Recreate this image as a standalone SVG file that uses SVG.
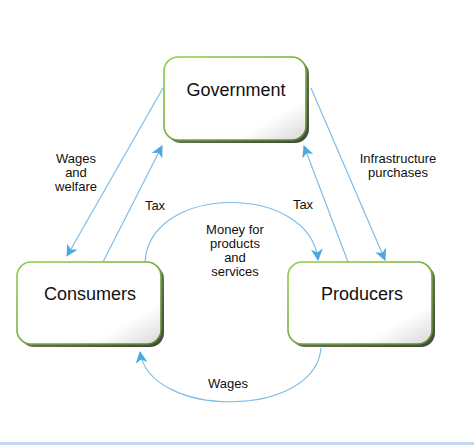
<svg xmlns="http://www.w3.org/2000/svg" width="474" height="445" viewBox="0 0 474 445">
  <defs>
    <linearGradient id="boxfill" x1="0" y1="0" x2="1" y2="1">
      <stop offset="0" stop-color="#ffffff"/>
      <stop offset="0.75" stop-color="#ffffff"/>
      <stop offset="1" stop-color="#d8d8d8"/>
    </linearGradient>
    <linearGradient id="shadowfill" x1="0" y1="0" x2="1" y2="1">
      <stop offset="0" stop-color="#8a9a80"/>
      <stop offset="1" stop-color="#3f4a38"/>
    </linearGradient>
    <linearGradient id="strokeg" x1="0" y1="0" x2="1" y2="1">
      <stop offset="0" stop-color="#8fd04a"/>
      <stop offset="1" stop-color="#5e8a2e"/>
    </linearGradient>
    <marker id="arr" viewBox="0 0 12 12" refX="11" refY="6" markerWidth="12" markerHeight="12" markerUnits="userSpaceOnUse" orient="auto">
      <path d="M0,0 L12,6 L0,12 L3.5,6 Z" fill="#4ea8e0"/>
    </marker>
  </defs>
  <style>
    .shadow { fill: url(#shadowfill); }
    .box { fill: url(#boxfill); stroke: url(#strokeg); stroke-width: 1.6; }
    .big { font-family: "Liberation Sans", Arial, sans-serif; font-size: 18px; fill: #111; text-anchor: middle; }
    .lbl { font-family: "Liberation Sans", Arial, sans-serif; font-size: 13px; fill: #111; text-anchor: middle; }
    .conn { fill: none; stroke: #7dbde8; stroke-width: 1.2; marker-end: url(#arr); }
  </style>
  <rect x="0" y="0" width="474" height="445" fill="#ffffff"/>
  <rect x="0" y="442" width="474" height="3" fill="#c5d9ee"/>

  <g id="connectors">
    <path class="conn" d="M163,88 L67,256"/>
    <path class="conn" d="M103,262 L162,146"/>
    <path class="conn" d="M311,88 L385,260"/>
    <path class="conn" d="M348,262 L304,146"/>
    <path class="conn" d="M145,262 C150,183 310,183 318,260"/>
    <path class="conn" d="M321,348 C315,419 150,419 140,352"/>
  </g>

  <g id="government">
    <rect class="shadow" x="167" y="60" width="142" height="83" rx="14"/>
    <rect class="box" x="164" y="57" width="142" height="83" rx="14"/>
    <text class="big" x="236" y="96">Government</text>
  </g>

  <g id="consumers">
    <rect class="shadow" x="20" y="265" width="144" height="82" rx="14"/>
    <rect class="box" x="17" y="262" width="144" height="82" rx="14"/>
    <text class="big" x="90" y="300">Consumers</text>
  </g>

  <g id="producers">
    <rect class="shadow" x="291" y="265" width="144" height="82" rx="14"/>
    <rect class="box" x="288" y="262" width="144" height="82" rx="14"/>
    <text class="big" x="362" y="300">Producers</text>
  </g>

  <g id="labels">
    <text class="lbl" x="76" y="163">Wages</text>
    <text class="lbl" x="76" y="177">and</text>
    <text class="lbl" x="76" y="191">welfare</text>
    <text class="lbl" x="155" y="210">Tax</text>
    <text class="lbl" x="303" y="209">Tax</text>
    <text class="lbl" x="398" y="163">Infrastructure</text>
    <text class="lbl" x="398" y="177">purchases</text>
    <text class="lbl" x="235" y="234">Money for</text>
    <text class="lbl" x="235" y="248">products</text>
    <text class="lbl" x="235" y="262">and</text>
    <text class="lbl" x="235" y="276">services</text>
    <text class="lbl" x="228" y="388">Wages</text>
  </g>
</svg>
